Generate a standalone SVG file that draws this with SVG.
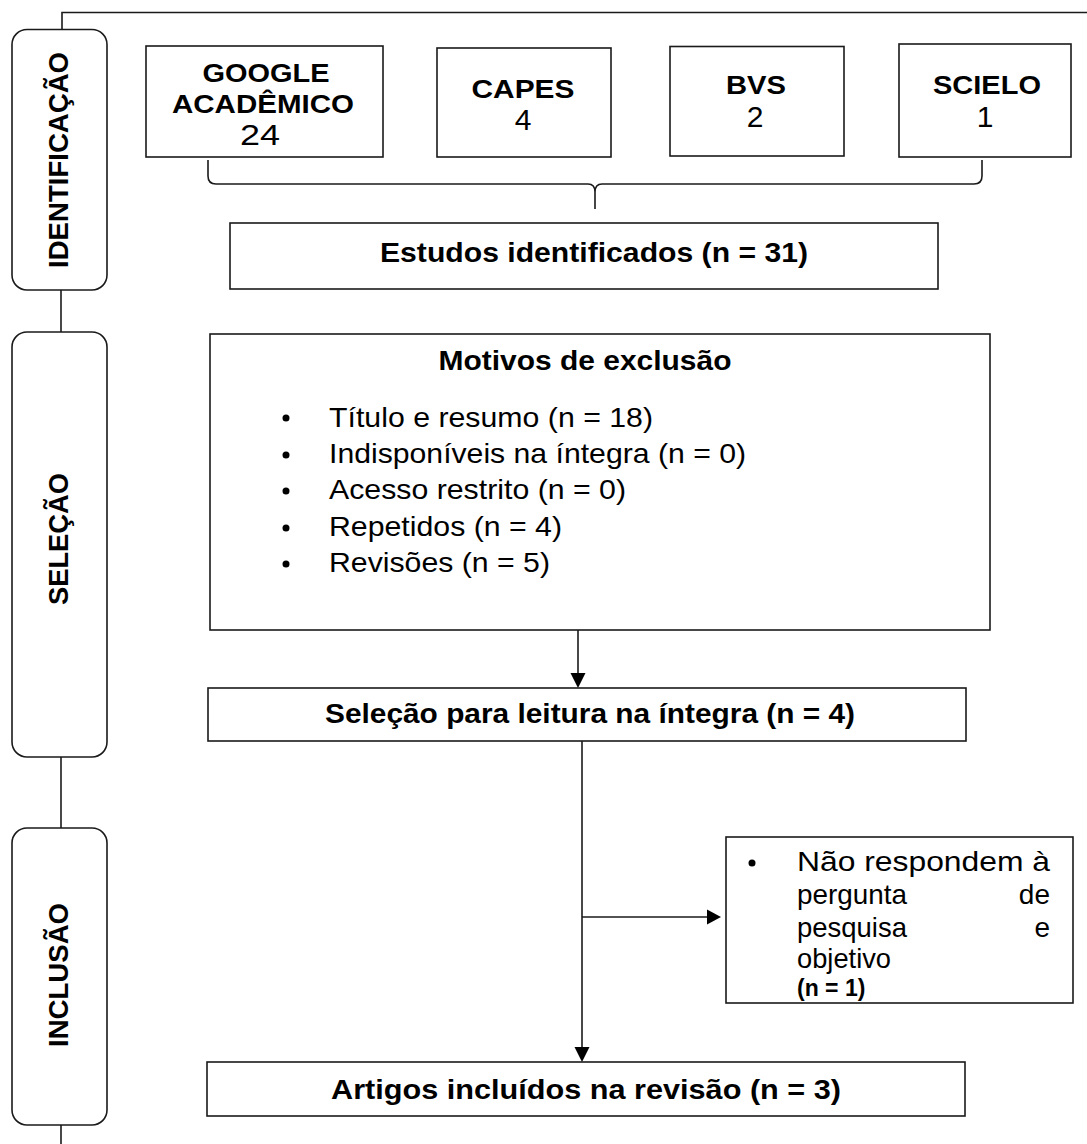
<svg xmlns="http://www.w3.org/2000/svg" width="1087" height="1144" viewBox="0 0 1087 1144">
<style>
.box{fill:#fff;stroke:#1a1a1a;stroke-width:1.6}
.phase{fill:#fff;stroke:#1a1a1a;stroke-width:1.6}
.ln{fill:none;stroke:#1a1a1a;stroke-width:1.6}
.b{font-family:"Liberation Sans",Arial,sans-serif;font-weight:bold;fill:#000}
.r{font-family:"Liberation Sans",Arial,sans-serif;fill:#000}
</style>
<rect width="1087" height="1144" fill="#fff"/>

<g id="connectors">
<path class="ln" d="M62,30 V12.5 H1087"/>
<path class="ln" d="M61,290 V332"/>
<path class="ln" d="M61,757 V828"/>
<path class="ln" d="M61,1125 V1144"/>
<path class="ln" d="M208,160 V176 Q208,184 216,184 H588 Q595,184 595,192 V209 M595,192 Q595,184 602,184 H974 Q982,184 982,176 V160"/>
<path class="ln" d="M578,630 V674"/>
<path d="M570.5,673 L585.5,673 L578,688 Z" fill="#000"/>
<path class="ln" d="M582,741 V1048"/>
<path d="M574.5,1047 L589.5,1047 L582,1062 Z" fill="#000"/>
<path class="ln" d="M582,917 H708"/>
<path d="M707,909.5 L707,924.5 L721,917 Z" fill="#000"/>
</g>

<g id="phase-identificacao">
<rect class="phase" x="12" y="29.5" width="95" height="260.5" rx="15"/>
<text class="b" font-size="28" transform="translate(68,160) rotate(-90)" text-anchor="middle" textLength="216" lengthAdjust="spacingAndGlyphs">IDENTIFICAÇÃO</text>
</g>
<g id="phase-selecao">
<rect class="phase" x="12" y="332" width="95" height="425" rx="15"/>
<text class="b" font-size="28" transform="translate(68,539) rotate(-90)" text-anchor="middle" textLength="132" lengthAdjust="spacingAndGlyphs">SELEÇÃO</text>
</g>
<g id="phase-inclusao">
<rect class="phase" x="12" y="828" width="95" height="297" rx="15"/>
<text class="b" font-size="28" transform="translate(68,975) rotate(-90)" text-anchor="middle" textLength="144" lengthAdjust="spacingAndGlyphs">INCLUSÃO</text>
</g>

<g id="src-google">
<rect class="box" x="146" y="46" width="237" height="111"/>
<text class="b" font-size="26" x="266" y="82" text-anchor="middle" textLength="127" lengthAdjust="spacingAndGlyphs">GOOGLE</text>
<text class="b" font-size="26" x="263" y="113" text-anchor="middle" textLength="182" lengthAdjust="spacingAndGlyphs">ACADÊMICO</text>
<text class="r" font-size="30" x="260" y="145" text-anchor="middle" textLength="40" lengthAdjust="spacingAndGlyphs">24</text>
</g>
<g id="src-capes">
<rect class="box" x="437" y="48" width="174" height="109"/>
<text class="b" font-size="26" x="523" y="98" text-anchor="middle" textLength="103" lengthAdjust="spacingAndGlyphs">CAPES</text>
<text class="r" font-size="30" x="523" y="130" text-anchor="middle">4</text>
</g>
<g id="src-bvs">
<rect class="box" x="670" y="46.5" width="174" height="109.5"/>
<text class="b" font-size="26" x="756" y="94" text-anchor="middle" textLength="60" lengthAdjust="spacingAndGlyphs">BVS</text>
<text class="r" font-size="30" x="755" y="127" text-anchor="middle">2</text>
</g>
<g id="src-scielo">
<rect class="box" x="899" y="44" width="172" height="113"/>
<text class="b" font-size="26" x="987" y="94" text-anchor="middle" textLength="108" lengthAdjust="spacingAndGlyphs">SCIELO</text>
<text class="r" font-size="30" x="985" y="127" text-anchor="middle">1</text>
</g>

<g id="estudos">
<rect class="box" x="230" y="223" width="708" height="66"/>
<text class="b" font-size="27" x="594" y="262" text-anchor="middle" textLength="428" lengthAdjust="spacingAndGlyphs">Estudos identificados (n = 31)</text>
</g>

<g id="motivos">
<rect class="box" x="210" y="334" width="780" height="296"/>
<text class="b" font-size="27" x="585" y="370" text-anchor="middle" textLength="293" lengthAdjust="spacingAndGlyphs">Motivos de exclusão</text>
<g class="r" font-size="28">
<circle cx="286" cy="418" r="3.5" fill="#000"/>
<text x="329" y="427" textLength="324" lengthAdjust="spacingAndGlyphs">Título e resumo (n = 18)</text>
<circle cx="286" cy="455" r="3.5" fill="#000"/>
<text x="329" y="463" textLength="417" lengthAdjust="spacingAndGlyphs">Indisponíveis na íntegra (n = 0)</text>
<circle cx="286" cy="491" r="3.5" fill="#000"/>
<text x="329" y="499" textLength="297" lengthAdjust="spacingAndGlyphs">Acesso restrito (n = 0)</text>
<circle cx="286" cy="528" r="3.5" fill="#000"/>
<text x="329" y="536" textLength="233" lengthAdjust="spacingAndGlyphs">Repetidos (n = 4)</text>
<circle cx="286" cy="564" r="3.5" fill="#000"/>
<text x="329" y="572" textLength="221" lengthAdjust="spacingAndGlyphs">Revisões (n = 5)</text>
</g>
</g>

<g id="selecao-leitura">
<rect class="box" x="208" y="688" width="758" height="53"/>
<text class="b" font-size="27" x="590" y="723" text-anchor="middle" textLength="530" lengthAdjust="spacingAndGlyphs">Seleção para leitura na íntegra (n = 4)</text>
</g>

<g id="nao-respondem">
<rect class="box" x="726" y="837" width="347" height="166"/>
<circle cx="752" cy="863" r="3.5" fill="#000"/>
<g class="r" font-size="28">
<text x="797" y="871" textLength="253" lengthAdjust="spacingAndGlyphs">Não respondem à</text>
<text x="797" y="904" textLength="110" lengthAdjust="spacingAndGlyphs">pergunta</text>
<text x="1050" y="904" text-anchor="end">de</text>
<text x="797" y="937" textLength="110" lengthAdjust="spacingAndGlyphs">pesquisa</text>
<text x="1050" y="937" text-anchor="end">e</text>
<text x="797" y="968" textLength="94" lengthAdjust="spacingAndGlyphs">objetivo</text>
</g>
<text class="b" font-size="23" x="797" y="996">(n = 1)</text>
</g>

<g id="artigos">
<rect class="box" x="207" y="1062" width="758" height="54"/>
<text class="b" font-size="27" x="586" y="1099" text-anchor="middle" textLength="510" lengthAdjust="spacingAndGlyphs">Artigos incluídos na revisão (n = 3)</text>
</g>
</svg>
